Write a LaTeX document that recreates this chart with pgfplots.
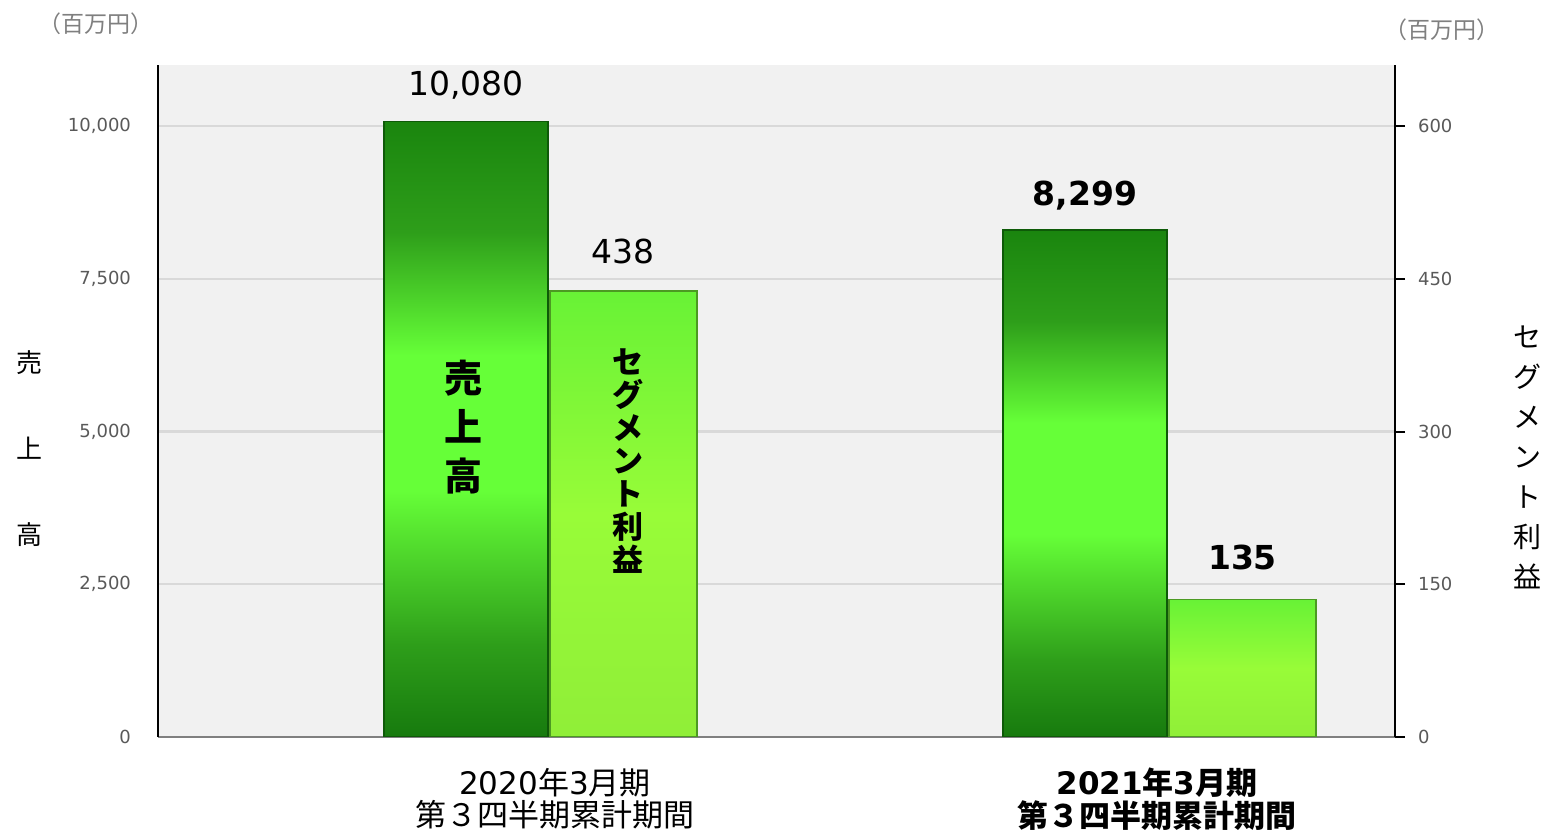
\documentclass[border=0pt]{standalone}
\usepackage{fontspec}
\usepackage{pgfplots}
\pgfplotsset{compat=1.18}
\setmainfont{DejaVu Sans}
\newfontfamily\jp{Noto Sans CJK JP}
\definecolor{tickgray}{HTML}{595959}
\definecolor{unitgray}{HTML}{7F7F7F}
\definecolor{plotbg}{HTML}{F1F1F1}
\definecolor{gridc}{HTML}{D9D9D9}
\definecolor{sDark}{HTML}{177A0E}
\definecolor{sTop}{HTML}{1A850E}
\definecolor{sMed}{HTML}{2E9E1A}
\definecolor{sBright}{HTML}{66FF38}
\definecolor{gTop}{HTML}{68F236}
\definecolor{gMid}{HTML}{98FC38}
\definecolor{gBot}{HTML}{90EE38}
\definecolor{sEdge}{HTML}{0E5A08}
\definecolor{gEdge}{HTML}{4C9A22}
\pgfdeclareverticalshading{salesshade}{100bp}{color(0bp)=(sDark); color(25bp)=(sDark); color(32.5bp)=(sMed); color(45bp)=(sBright); color(56bp)=(sBright); color(66bp)=(sMed); color(75bp)=(sTop); color(100bp)=(sTop)}
\pgfdeclareverticalshading{segshade}{100bp}{color(0bp)=(gBot); color(25bp)=(gBot); color(50bp)=(gMid); color(75bp)=(gTop); color(100bp)=(gTop)}
\pgfplotsset{/pgf/number format/assume math mode=true,
  salesbar/.style={ybar, bar width=0.2649, bar shift=0, shade, shading=salesshade, draw=sEdge, line width=0.6pt},
  segbar/.style={ybar, bar width=0.2375, bar shift=0, shade, shading=segshade, draw=gEdge, line width=0.6pt},
  vlab/.style={nodes near coords, every node near coord/.append style={anchor=base, inner sep=0pt, text=black, yshift=#1}},
}
\begin{document}
\begin{tikzpicture}
\useasboundingbox (0,0) rectangle (773pt,416.5pt);
\begin{axis}[
  at={(79pt,48pt)}, anchor=south west,
  width=618.5pt, height=336pt, scale only axis,
  xmin=-0.49758, xmax=1.50081,
  ymin=0, ymax=11000,
  axis x line*=bottom, axis y line*=left,
  x axis line style={-, draw=gray, line width=1pt},
  y axis line style={-, draw=black, line width=1pt},
  axis background/.style={fill=plotbg},
  ymajorgrids, grid style={gridc, line width=1.2pt},
  ytick={0,2500,5000,7500,10000},
  scaled y ticks=false,
  major tick length=0pt,
  yticklabel style={font=\fontsize{9}{10}\selectfont, text=tickgray, xshift=-10pt},
  xtick={0.1438,1.1163},
  xticklabels={{2020{\jp 年}3{\jp 月期}\\{\jp 第３四半期累計期間}},{\bfseries 2021{\jp 年}3{\jp 月期}\\\bfseries{\jp 第３四半期累計期間}}},
  xticklabel style={align=center, anchor=north, yshift=-12pt, font=\fontsize{15.5}{16.2}\selectfont, text=black},
  nodes near coords style={font=\fontsize{16.5}{18}\selectfont},
]
\addplot[salesbar, vlab=12.75pt] coordinates {(0,10080)};
\addplot[salesbar, vlab=12pt, nodes near coords style={font=\fontsize{16.5}{18}\selectfont\bfseries}] coordinates {(1,8299)};
\end{axis}
\begin{axis}[
  at={(79pt,48pt)}, anchor=south west,
  width=618.5pt, height=336pt, scale only axis,
  xmin=-0.49758, xmax=1.50081,
  ymin=0, ymax=660,
  axis x line=none, axis y line*=right,
  y axis line style={-, draw=black, line width=1pt},
  ytick={0,150,300,450,600},
  tick align=outside, major tick length=5pt,
  ytick style={black, line width=1pt},
  yticklabel style={font=\fontsize{9}{10}\selectfont, text=tickgray, xshift=3pt},
  nodes near coords style={font=\fontsize{16.5}{18}\selectfont},
]
\addplot[segbar, vlab=14pt] coordinates {(0.2544,438)};
\addplot[segbar, vlab=15pt, nodes near coords style={font=\fontsize{16.5}{18}\selectfont\bfseries}] coordinates {(1.2544,135)};
\end{axis}
% in-bar labels
\node[font=\jp\bfseries\fontsize{19}{24.5}\selectfont, align=center, inner sep=0pt] at (231.5pt,203pt) {売\\上\\高};
\node[font=\jp\bfseries\fontsize{15.5}{16.5}\selectfont, align=center, inner sep=0pt] at (314pt,185.75pt) {セ\\グ\\メ\\ン\\ト\\利\\益};
% axis titles
\node[font=\jp\fontsize{13}{43}\selectfont, align=center, inner sep=0pt] at (15pt,192pt) {売\\上\\高};
\node[font=\jp\fontsize{14}{20}\selectfont, align=center, inner sep=0pt] at (763.5pt,187.75pt) {セ\\グ\\メ\\ン\\ト\\利\\益};
% units
\node[font=\jp\fontsize{11.5}{12}\selectfont, text=unitgray, inner sep=0pt] at (48pt,404.5pt) {（百万円）};
\node[font=\jp\fontsize{11.5}{12}\selectfont, text=unitgray, inner sep=0pt] at (721pt,401.5pt) {（百万円）};
\end{tikzpicture}
\end{document}
